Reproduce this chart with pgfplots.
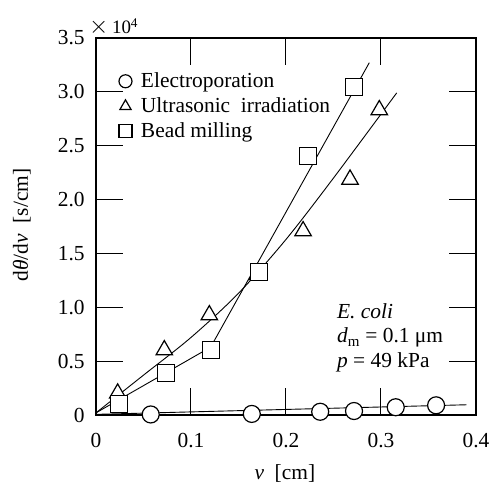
\documentclass[border=0pt]{standalone}
\usepackage{fontspec}
\setmainfont{Liberation Serif}
\usepackage{pgfplots}
\pgfplotsset{compat=1.18}

\begin{document}
\fontsize{21.5}{25}\selectfont
\begin{tikzpicture}[font=\fontsize{21.5}{25}\selectfont]
\begin{axis}[
  scale only axis, width=380bp, height=377bp,
  at={(0,0)}, anchor=south west,
  clip=false,
  xmin=0, xmax=0.4, ymin=0, ymax=35000,
  xtick={0,0.1,0.2,0.3,0.4}, xticklabels={0,0.1,0.2,0.3,0.4},
  ytick={0,5000,10000,15000,20000,25000,30000,35000},
  yticklabels={0,0.5,1.0,1.5,2.0,2.5,3.0,3.5},
  scaled y ticks=false, scaled x ticks=false,
  tick align=inside,
  major tick length=27bp,
  major tick style={black, line width=1bp},
  axis line style={line width=1.4bp},
  xticklabel style={yshift=-11bp},
  yticklabel style={xshift=-4bp},
  xlabel={\textit{v}\ \ [cm]},
  ylabel={d\textit{θ}/d\textit{v}\ \ [s/cm]},
  xlabel style={at={(axis description cs:0.497,-0.155)}, anchor=center},
  ylabel style={at={(axis description cs:-0.195,0.504)}, anchor=center},
  legend style={draw=none, fill=none, at={(axis description cs:0.06,0.915)}, anchor=north west,
    font=\fontsize{21.5}{25}\selectfont, row sep=3bp, inner sep=0pt,
    nodes={inner xsep=9bp}},
  legend cell align=left,
  legend image post style={mark size=6.5bp},
]
% fitted lines
\addplot[no marks, line width=0.9bp, forget plot] coordinates {(0,60) (0.39,950)};
\addplot[no marks, smooth, tension=0.5, line width=0.9bp, forget plot] coordinates {(0,200) (0.05,3700) (0.1,7200) (0.15,11300) (0.2,16300) (0.25,22000) (0.3165,29900)};
\addplot[no marks, line width=0.9bp, forget plot] coordinates {(0,200) (0.1207,6300) (0.2877,32710)};
% data
\addplot[only marks, mark=*, mark size=8.5bp, mark options={fill=white, draw=black, line width=1.2bp}]
  coordinates {(0.0576,50) (0.164,100) (0.236,300) (0.2716,370) (0.3155,720) (0.358,900)};
\addlegendentry{Electroporation}
\addplot[only marks, mark=triangle*, mark size=9.5bp, mark options={fill=white, draw=black, line width=1.2bp}]
  coordinates {(0.0228,2010) (0.0719,6030) (0.1193,9280) (0.1698,13000) (0.218,17080) (0.2674,21870) (0.2982,28320)};
\addlegendentry{Ultrasonic\ \ irradiation}
\addplot[only marks, mark=square*, mark size=8.5bp, mark options={fill=white, draw=black, line width=1.2bp}]
  coordinates {(0.0246,1040) (0.0737,3870) (0.1207,6030) (0.1719,13310) (0.2235,24050) (0.2716,30430)};
\addlegendentry{Bead milling}
% annotations
\node[anchor=base west, inner sep=0pt] at (axis description cs:0.634,0.257) {\textit{E. coli}};
\node[anchor=base west, inner sep=0pt] at (axis description cs:0.634,0.191) {\textit{d}\textsubscript{m} = 0.1 μm};
\node[anchor=base west, inner sep=0pt] at (axis description cs:0.634,0.125) {\textit{p} = 49 kPa};
\end{axis}
\node[anchor=base west, inner sep=0pt] at (-7bp,381bp) {{\fontsize{24}{26}\selectfont$\times$}\,{\fontsize{19}{22}\selectfont 10\textsuperscript{4}}};
\pgfresetboundingbox
\useasboundingbox (-96bp,-69bp) rectangle (396bp,415bp);
\end{tikzpicture}
\end{document}
